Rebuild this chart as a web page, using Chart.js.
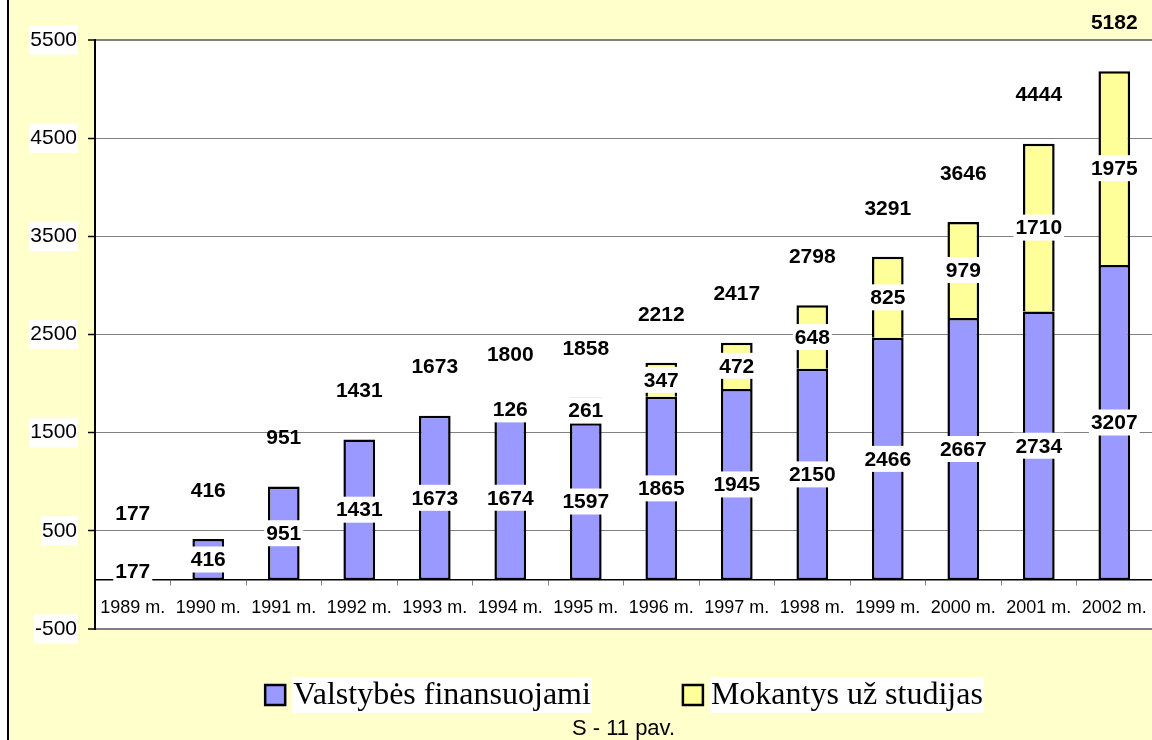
<!DOCTYPE html>
<html>
<head>
<meta charset="utf-8">
<script src="https://cdn.jsdelivr.net/npm/chart.js@4.4.1/dist/chart.umd.min.js"></script>
<style>
	html,body{margin:0;padding:0;background:#fff;overflow:hidden;}
	#wrap{position:absolute;left:7px;top:0;width:1150px;height:740px;border-left:2px solid #000;background:#FFFFCC;}
	#chart{display:block;}
</style>
</head>
<body>
<div id="wrap"><canvas id="chart" width="1150" height="740"></canvas></div>
<script>
var years=["1989 m.","1990 m.","1991 m.","1992 m.","1993 m.","1994 m.","1995 m.","1996 m.","1997 m.","1998 m.","1999 m.","2000 m.","2001 m.","2002 m."];
var valstybes=[177,416,951,1431,1673,1674,1597,1865,1945,2150,2466,2667,2734,3207];
var mokantys=[0,0,0,0,0,126,261,347,472,648,825,979,1710,1975];
var seriesNames=["Valstybės finansuojami","Mokantys už studijas"];
var seriesColors=["#9999FF","#FFFF99"];
var yTicks=[-500,500,1500,2500,3500,4500,5500];
var caption="S - 11 pav.";

var sans="'Liberation Sans', Arial, sans-serif";
var serif="'Liberation Serif', 'Times New Roman', serif";

// white plot area on the yellow page
var plotBg={
	id:"plotBg",
	beforeDraw:function(chart){
		var a=chart.chartArea,ctx=chart.ctx;
		ctx.save();
		ctx.fillStyle="#fff";
		ctx.fillRect(a.left,a.top,a.right-a.left,a.bottom-a.top);
		ctx.restore();
	}
};

// labels inside the bars (white boxes) and totals above
var labelPlugin={
	id:"labels",
	afterDatasetsDraw:function(chart){
		var ctx=chart.ctx;
		ctx.save();
		ctx.font="bold 21px "+sans;
		ctx.textAlign="center";
		ctx.textBaseline="middle";
		for(var d=0;d<chart.data.datasets.length;d++){
			var meta=chart.getDatasetMeta(d);
			var vals=chart.data.datasets[d].data;
			for(var i=0;i<meta.data.length;i++){
				if(!vals[i]) continue;
				var el=meta.data[i];
				var cy=(el.y+el.base)/2;
				var txt=String(vals[i]);
				var w=ctx.measureText(txt).width+4;
				ctx.fillStyle="#fff";
				ctx.fillRect(el.x-w/2,cy-13,w,26);
				ctx.fillStyle="#000";
				ctx.fillText(txt,el.x,cy+1);
			}
		}
		var top=chart.getDatasetMeta(chart.data.datasets.length-1);
		for(var i=0;i<top.data.length;i++){
			var total=valstybes[i]+mokantys[i];
			ctx.fillText(String(total),top.data[i].x,top.data[i].y-48);
		}
		ctx.restore();
	}
};

// legend + caption below the plot
var legendPlugin={
	id:"legendBelow",
	afterDraw:function(chart){
		var ctx=chart.ctx;
		var area=chart.chartArea;
		ctx.save();
		ctx.font="32px "+serif;
		var widths=seriesNames.map(function(n){return ctx.measureText(n).width;});
		var box=22,gap=7,between=91;
		var total=box+gap+widths[0]+between+box+gap+widths[1];
		var x=(area.left+area.right)/2-total/2;
		var cy=695;
		ctx.textBaseline="middle";
		ctx.textAlign="left";
		for(var k=0;k<seriesNames.length;k++){
			ctx.fillStyle=seriesColors[k];
			ctx.fillRect(x,cy-11,box,box);
			ctx.lineWidth=2.5;
			ctx.strokeStyle="#000";
			ctx.strokeRect(x+1,cy-10,box-2,box-2);
			x+=box+gap;
			ctx.fillStyle="#fff";
			ctx.fillRect(x-1,cy-18,widths[k]+2,36);
			ctx.fillStyle="#000";
			ctx.fillText(seriesNames[k],x,cy+1);
			x+=widths[k]+between;
		}
		ctx.font="22px "+sans;
		ctx.textAlign="center";
		ctx.fillText(caption,(area.left+area.right)/2,729);
		ctx.restore();
	}
};

new Chart("chart",{
	type:"bar",
	data:{
		labels:years,
		datasets:[{
			label:seriesNames[0],
			data:valstybes,
			backgroundColor:seriesColors[0],
			borderColor:"#000",
			borderWidth:2.5,
			borderSkipped:false
		},{
			label:seriesNames[1],
			data:mokantys,
			backgroundColor:seriesColors[1],
			borderColor:"#000",
			borderWidth:2.5,
			borderSkipped:"start"
		}]
	},
	options:{
		responsive:false,
		animation:false,
		barPercentage:0.42,
		categoryPercentage:1,
		layout:{padding:{left:0,right:5,top:40,bottom:111}},
		plugins:{legend:{display:false},tooltip:{enabled:false}},
		scales:{
			x:{
				stacked:true,
				position:{y:0},
				grid:{display:true,drawOnChartArea:false,drawTicks:true,tickLength:5,color:"#808080",offset:true},
				border:{color:"#000",width:1.5},
				ticks:{color:"#000",font:{family:sans,size:18},padding:12,maxRotation:0,autoSkip:false}
			},
			y:{
				stacked:true,
				min:yTicks[0],
				max:yTicks[yTicks.length-1],
				afterFit:function(s){s.width=86;},
				afterBuildTicks:function(s){s.ticks=yTicks.map(function(v){return {value:v};});},
				grid:{
					color:"#808080",
					lineWidth:function(c){return (c.tick&&(c.tick.value==5500||c.tick.value==-500))?2:1;},
					tickColor:"#000",
					tickLength:7,
					tickWidth:1.5
				},
				border:{color:"#000",width:2},
				ticks:{
					color:"#000",
					font:{family:sans,size:21},
					padding:11,
					callback:function(v){return String(v);},
					showLabelBackdrop:true,
					backdropColor:"#fff",
					backdropPadding:{x:1,y:2}
				}
			}
		}
	},
	plugins:[plotBg,labelPlugin,legendPlugin]
});
</script>
</body>
</html>
